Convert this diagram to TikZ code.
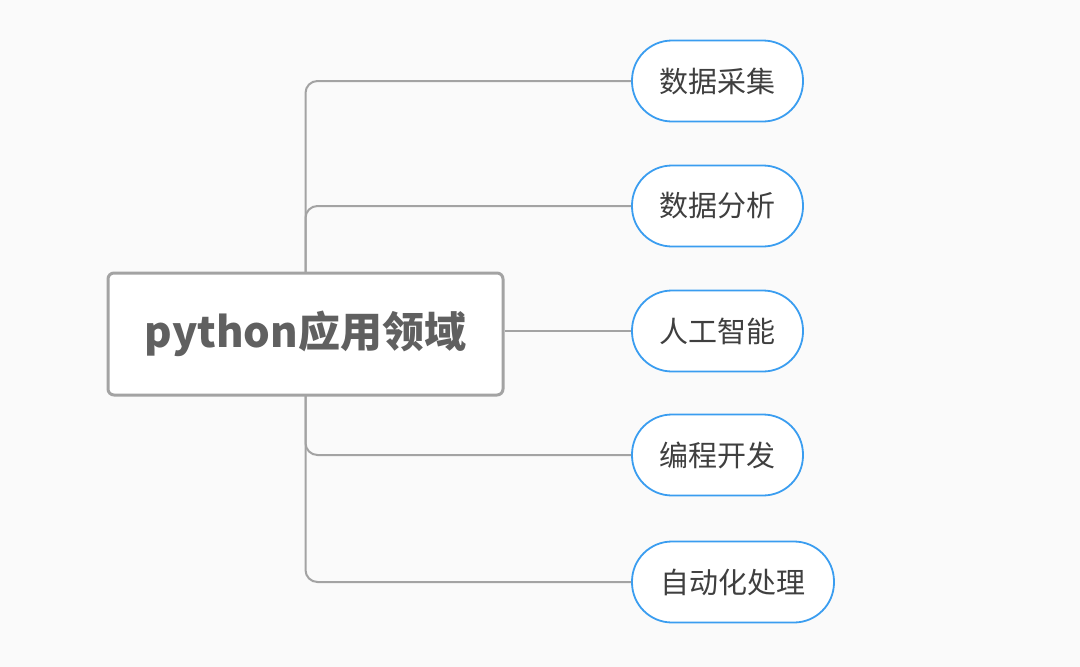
\documentclass[tikz,border=0pt]{standalone}
\usepackage{fontspec}
\newfontfamily\cjk{Noto Sans CJK SC}
\usetikzlibrary{positioning}
\definecolor{bgc}{HTML}{FAFAFA}
\definecolor{linec}{HTML}{A3A3A3}
\definecolor{pillc}{HTML}{3A9DF0}
\definecolor{roottxt}{HTML}{606060}
\definecolor{pilltxt}{HTML}{3F3F3F}
\tikzset{
  x=1pt, y=-1pt,
  rootbox/.style={draw=linec, line width=3pt, fill=white, rounded corners=6pt,
    minimum width=395pt, minimum height=122pt, inner sep=0pt,
    font=\cjk\bfseries\fontsize{42}{48}\selectfont, text=roottxt},
  pill/.style={draw=pillc, line width=1.8pt, fill=white, rounded corners=40pt,
    minimum width=171pt, minimum height=81pt, inner sep=0pt,
    font=\cjk\fontsize{29}{34}\selectfont, text=pilltxt},
  conn/.style={draw=linec, line width=2pt, rounded corners=12pt},
}
\begin{document}
\begin{tikzpicture}
\fill[bgc] (0,0) rectangle (1080,667);
\useasboundingbox (0,0) rectangle (1080,667);
\node[pill] (c1) at (717.5,81) {数据采集};
\node[pill] (c2) at (717.5,206) {数据分析};
\node[pill] (c3) at (717.5,331) {人工智能};
\node[pill] (c4) at (717.5,455) {编程开发};
\node[pill, minimum width=202pt] (c5) at (733,582) {自动化处理};
\draw[conn] (305.5,290) coordinate (top) |- (c1.west);
\draw[conn] (top) |- (c2.west);
\draw[conn] (305.5,375) coordinate (bot) |- (c4.west);
\draw[conn] (bot) |- (c5.west);
\node[rootbox] (root) at (305.5,334) {python应用领域};
\draw[conn] (root.east |- c3.west) -- (c3.west);
\end{tikzpicture}
\end{document}
